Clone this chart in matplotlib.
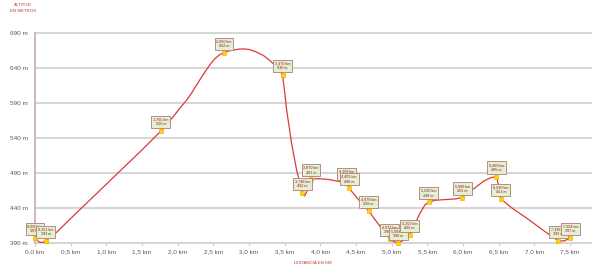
import matplotlib
matplotlib.use("Agg")
import matplotlib.pyplot as plt

# ---------------- data ----------------
# elevation profile (km, m)
path_km = [0.000, 0.040, 0.070, 0.110, 0.151, 0.200, 0.300, 0.500, 1.000, 1.500, 1.765,
           1.850, 1.950, 2.050, 2.126, 2.200, 2.310, 2.400, 2.470, 2.530, 2.590, 2.650,
           2.720, 2.800, 2.860, 2.920, 3.000, 3.100, 3.200, 3.290, 3.350, 3.400, 3.440,
           3.470, 3.500, 3.528, 3.598, 3.668, 3.748, 3.780, 3.830, 3.870, 3.950, 4.100, 4.260,
           4.369, 4.405, 4.550, 4.676, 4.820, 4.972, 5.030, 5.093, 5.170, 5.253, 5.330,
           5.400, 5.470, 5.520, 5.600, 5.750, 5.900, 5.990, 6.070, 6.145, 6.285, 6.380,
           6.469, 6.510, 6.530, 6.700, 6.900, 7.100, 7.250, 7.339, 7.420, 7.504]
path_m = [397, 393, 391, 391, 393, 397, 405, 425, 474, 523, 550,
          560, 572, 585, 594, 605, 623, 637, 647, 654, 659, 662,
          664.5, 666, 667, 667.3, 666.5, 663, 658, 651, 645, 640, 635,
          630, 606, 580, 532, 494, 462, 457, 468, 481, 482, 481, 478,
          476, 468, 450, 436, 416, 396, 392, 390, 394, 402, 418,
          433, 445, 448, 451, 452, 453, 455, 461, 467, 478, 483,
          485, 467, 453, 439, 425, 410, 399, 393, 393, 397]

# labelled way points
point_km = [0.000, 0.151, 1.765, 2.650, 3.470, 3.748, 3.870, 4.369, 4.405, 4.676,
            4.972, 5.093, 5.253, 5.520, 5.990, 6.469, 6.530, 7.339, 7.504]
point_m = [397, 393, 550, 662, 630, 462, 481, 476, 468, 436,
           396, 390, 402, 448, 455, 485, 453, 393, 397]

x_ticks = [0.0, 0.5, 1.0, 1.5, 2.0, 2.5, 3.0, 3.5, 4.0, 4.5, 5.0, 5.5, 6.0, 6.5, 7.0, 7.5]
y_ticks = [390, 440, 490, 540, 590, 640, 690]

# ---------------- style ----------------
W, H = 594, 269
fig = plt.figure(figsize=(W / 100, H / 100), dpi=100)
ax = fig.add_axes([35 / W, 1 - 243 / H, (591 - 35) / W, 210 / H])

FONT = "Liberation Sans"
RED = "#c0392b"
GRID = "#d6d6d6"

ax.set_xlim(0, 556 / 71.33)
ax.set_ylim(390, 690)

ax.set_yticks(y_ticks)
ax.set_yticklabels([f"{v} m" for v in y_ticks])
ax.set_xticks(x_ticks)
ax.set_xticklabels([f"{v:.1f}".replace(".", ",") + " km" for v in x_ticks])

ax.grid(axis="y", color=GRID, lw=1.5)
for gl in ax.get_ygridlines():
    gl.set_clip_on(False)
ax.set_axisbelow(True)

for s in ["top", "right", "bottom"]:
    ax.spines[s].set_visible(False)
ax.spines["left"].set_color("#ccbcbc")
ax.spines["left"].set_linewidth(1.5)

ax.tick_params(axis="y", length=0, pad=5, labelsize=4.6, labelcolor="#595959")
ax.tick_params(axis="x", length=2.2, width=0.8, color="#cccccc", pad=2.5,
               labelsize=4.6, labelcolor="#595959")
for lab in ax.get_xticklabels() + ax.get_yticklabels():
    lab.set_fontfamily(FONT)

# profile line
ax.plot(path_km, path_m, color="#d93a3a", lw=0.9, clip_on=False, zorder=3,
        solid_joinstyle="round")

# way-point markers and labels
ax.plot(point_km, point_m, ls="none", marker="s", ms=2.6, mfc="#ffd700",
        mec="#f0a000", mew=0.4, clip_on=False, zorder=4)
for i, (d, a) in enumerate(zip(point_km, point_m)):
    txt = f"{d:.3f}".replace(".", ",") + " km\n" + f"{a} m"
    ax.annotate(txt, xy=(d, a), xytext=(0, 6.5), textcoords="offset points",
                ha="center", va="center", multialignment="center",
                fontsize=2.7, family=FONT, color="#8b1a1a", linespacing=1.25,
                bbox=dict(boxstyle="square,pad=0.45", fc="#e4f0d4", ec="#b98a85", lw=0.7),
                zorder=5 + i, annotation_clip=False)

# axis titles
fig.text(23 / W, 1 - 5 / H, "ALTITUD", ha="center", va="center", fontsize=3.2,
         family=FONT, color=RED)
fig.text(23 / W, 1 - 11 / H, "EN METROS", ha="center", va="center", fontsize=3.2,
         family=FONT, color=RED)
fig.text(313 / W, 1 - 263 / H, "DISTANCIA EN KM", ha="center", va="center",
         fontsize=3.2, family=FONT, color=RED)

fig.savefig("out.png", dpi=100)
